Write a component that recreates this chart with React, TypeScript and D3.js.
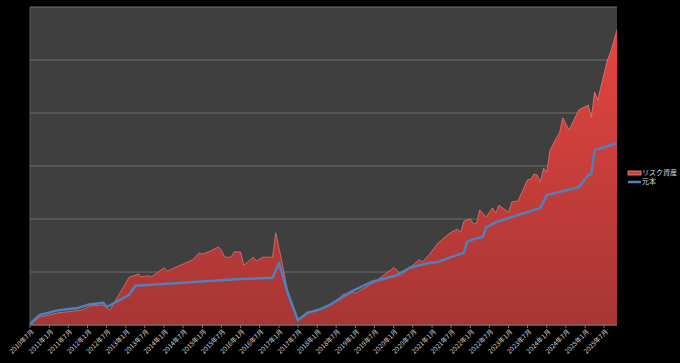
import * as d3 from 'd3'

// Monthly points (YYYY-MM), values in chart units (gridline = 100)
const riskDates = [
  '2010-07', '2010-10', '2011-04', '2011-11', '2012-02', '2012-06', '2012-08', '2013-02', '2013-05', '2013-06',
  '2013-08', '2013-09', '2014-01', '2014-02', '2014-10', '2014-12', '2015-01', '2015-03', '2015-06', '2015-07',
  '2015-08', '2015-10', '2015-11', '2016-01', '2016-02', '2016-05', '2016-06', '2016-08', '2016-11', '2016-12',
  '2017-02', '2017-04', '2017-07', '2017-10', '2018-02', '2018-05', '2018-08', '2018-09', '2018-12', '2019-01',
  '2019-07', '2020-01', '2020-02', '2020-03', '2020-06', '2020-09', '2020-10', '2020-12', '2021-03', '2021-07',
  '2021-09', '2021-10', '2021-11', '2022-01', '2022-02', '2022-03', '2022-04', '2022-06', '2022-08', '2022-09',
  '2022-10', '2023-01', '2023-02', '2023-04', '2023-07', '2023-08', '2023-09', '2023-10', '2023-11', '2023-12',
  '2024-01', '2024-02', '2024-04', '2024-05', '2024-06', '2024-08', '2024-11', '2025-02', '2025-03', '2025-04',
  '2025-05', '2025-08', '2025-09', '2025-11',
]
const riskValues = [
  0, 15, 23, 28, 36, 38, 28, 90, 96, 91,
  93, 91, 108, 102, 123, 136, 134, 138, 147, 142,
  128, 128, 138, 138, 113, 128, 121, 128, 128, 174,
  117, 55, 9, 23, 30, 38, 51, 57, 62, 60,
  81, 108, 104, 92, 108, 123, 119, 132, 155, 175,
  181, 175, 196, 200, 191, 192, 217, 204, 221, 211,
  226, 213, 232, 234, 274, 275, 285, 283, 270, 296,
  289, 330, 353, 362, 391, 368, 406, 415, 392, 440,
  425, 500, 515, 557,
]

const principalDates = [
  '2010-07', '2010-10', '2011-04', '2011-10', '2012-01', '2012-06', '2012-07', '2013-02', '2013-04', '2016-01',
  '2016-11', '2017-01', '2017-04', '2017-07', '2017-10', '2018-02', '2018-05', '2018-08', '2018-12', '2019-06',
  '2020-02', '2020-06', '2020-12', '2021-03', '2021-07', '2021-11', '2021-12', '2022-02', '2022-05', '2022-06',
  '2022-07', '2022-09', '2023-11', '2024-01', '2024-11', '2025-02', '2025-03', '2025-04', '2025-11',
]
const principalValues = [
  2, 19, 28, 32, 38, 42, 34, 57, 74, 87,
  89, 117, 57, 9, 23, 30, 38, 49, 64, 81,
  94, 108, 117, 119, 128, 136, 157, 162, 166, 185,
  187, 194, 221, 245, 260, 283, 285, 330, 343,
]

const seriesNames = ['リスク資産', '元本']
const yTicks = [0, 100, 200, 300, 400, 500, 600]

const W = 680
const H = 363
const parse = d3.timeParse('%Y-%m')

export default function App() {
  const margin = { top: 7, right: 63, bottom: 38, left: 30 }
  const x = d3
    .scaleTime()
    .domain([parse('2010-07')!, parse('2025-11')!])
    .range([margin.left, W - margin.right])
  const y = d3.scaleLinear().domain([0, 600]).range([H - margin.bottom, margin.top])

  const risk = riskDates.map((d, i) => ({ date: parse(d)!, value: riskValues[i] }))
  const principal = principalDates.map((d, i) => ({ date: parse(d)!, value: principalValues[i] }))

  const area = d3
    .area<{ date: Date; value: number }>()
    .x((d) => x(d.date))
    .y0(y(0))
    .y1((d) => y(d.value))
  const line = d3
    .line<{ date: Date; value: number }>()
    .x((d) => x(d.date))
    .y((d) => y(d.value))

  const ticks = d3.timeMonth
    .every(6)!
    .range(parse('2010-07')!, d3.timeDay.offset(parse('2025-07')!, 1))
  const fmt = (d: Date) => `${d.getFullYear()}年${d.getMonth() + 1}月`

  const [x0, x1] = x.range()
  const [yb, yt] = y.range()

  return (
    <svg
      width={W}
      height={H}
      style={{ position: 'absolute', left: 0, top: 0, background: '#000' }}
      fontFamily="'Noto Sans CJK JP', 'DejaVu Sans', sans-serif"
    >
      <defs>
        <linearGradient id="riskGrad" gradientUnits="userSpaceOnUse" x1="0" y1={yt} x2="0" y2={yb}>
          <stop offset="0%" stopColor="#ea4641" />
          <stop offset="100%" stopColor="#a63634" />
        </linearGradient>
      </defs>
      <rect x={0} y={0} width={W} height={H} fill="#000" />
      <rect x={x0} y={yt} width={x1 - x0} height={yb - yt} fill="#3f3f3f" />
      {yTicks.map((t) => (
        <line key={t} x1={x0} x2={x1} y1={y(t)} y2={y(t)} stroke="#6e6e6e" strokeWidth={1} />
      ))}
      <line x1={x0} x2={x0} y1={yt} y2={yb} stroke="#5a5a5a" strokeWidth={1} />

      <path d={area(risk)!} fill="url(#riskGrad)" />
      <path d={line(risk)!} fill="none" stroke="#f08a86" strokeWidth={1} strokeOpacity={0.6} />
      <path d={line(principal)!} fill="none" stroke="#4f81bd" strokeWidth={2.5} strokeLinejoin="round" />

      <line x1={x0} x2={x1} y1={yb} y2={yb} stroke="#7a7a7a" strokeWidth={1} />
      {ticks.map((t, i) => (
        <g key={i} transform={`translate(${x(t)},${yb})`}>
          <line y1={0} y2={3} stroke="#7a7a7a" />
          <text
            transform="translate(3,6) rotate(-45)"
            textAnchor="end"
            dominantBaseline="middle"
            fontSize={6.5}
            fill="#d4d4d4"
          >
            {fmt(t)}
          </text>
        </g>
      ))}

      <g transform="translate(628,173)">
        <rect x={0} y={-2} width={13} height={4} fill="#c9403c" stroke="#f09090" strokeWidth={0.8} />
        <text x={14} y={0} dominantBaseline="middle" fontSize={7} fill="#d8d8d8">
          {seriesNames[0]}
        </text>
        <line x1={0} x2={13} y1={9} y2={9} stroke="#4f81bd" strokeWidth={2.5} />
        <text x={14} y={9} dominantBaseline="middle" fontSize={7} fill="#d8d8d8">
          {seriesNames[1]}
        </text>
      </g>
    </svg>
  )
}
